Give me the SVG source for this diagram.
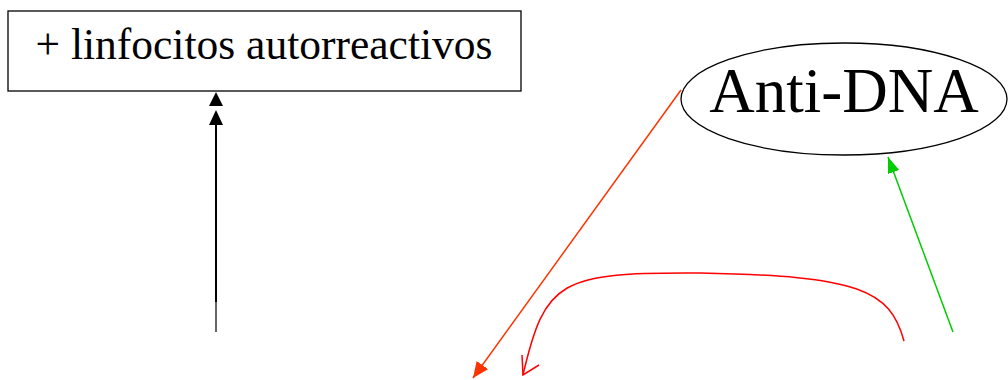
<svg xmlns="http://www.w3.org/2000/svg" width="1008" height="380" viewBox="0 0 1008 380">
<defs>
<style>
.lbl{font-family:"Liberation Serif","Times New Roman",serif;fill:#000;text-anchor:middle}
.box{fill:#fff;stroke:#000;stroke-width:1.3}
</style>
<marker id="ah-orange" viewBox="0 0 16 14" markerWidth="16" markerHeight="14" refX="16" refY="7" orient="auto" markerUnits="userSpaceOnUse"><path d="M0,0 L16,7 L0,14 Z" fill="#ff3300"/></marker>
<marker id="ah-green" viewBox="0 0 16 12" markerWidth="16" markerHeight="12" refX="16" refY="6" orient="auto" markerUnits="userSpaceOnUse"><path d="M0,0 L16,6 L0,12 Z" fill="#00cc00"/></marker>
</defs>
<g id="node-linfocitos">
<rect class="box" x="8" y="11" width="513" height="80"/>
<text class="lbl" x="264" y="59" font-size="43.5">+ linfocitos autorreactivos</text>
</g>
<g id="node-antidna">
<ellipse cx="844" cy="99" rx="163" ry="56" fill="#fff" stroke="#000" stroke-width="1.3"/>
<text class="lbl" x="844" y="112" font-size="63">Anti-DNA</text>
</g>
<g id="connectors">
<line x1="216" y1="332" x2="216" y2="302" stroke="#000" stroke-width="1.2"/>
<line x1="216" y1="302" x2="216" y2="112" stroke="#000" stroke-width="2"/>
<path d="M216,92 L223,106 L209,106 Z" fill="#000"/>
<path d="M216,110 L223,125 L209,125 Z" fill="#000"/>
<line x1="681" y1="90" x2="473" y2="378" stroke="#ff3300" stroke-width="1.5" marker-end="url(#ah-orange)"/>
<line x1="953" y1="332" x2="888" y2="157" stroke="#00cc00" stroke-width="1.5" marker-end="url(#ah-green)"/>
<path d="M904,341 C890,290 860,276 700,273 C560,272 545,280 523,375" fill="none" stroke="#ff0000" stroke-width="1.5"/>
<path d="M522,355 L523,375 L539,365" fill="none" stroke="#ff0000" stroke-width="1.5"/>
</g>
</svg>
